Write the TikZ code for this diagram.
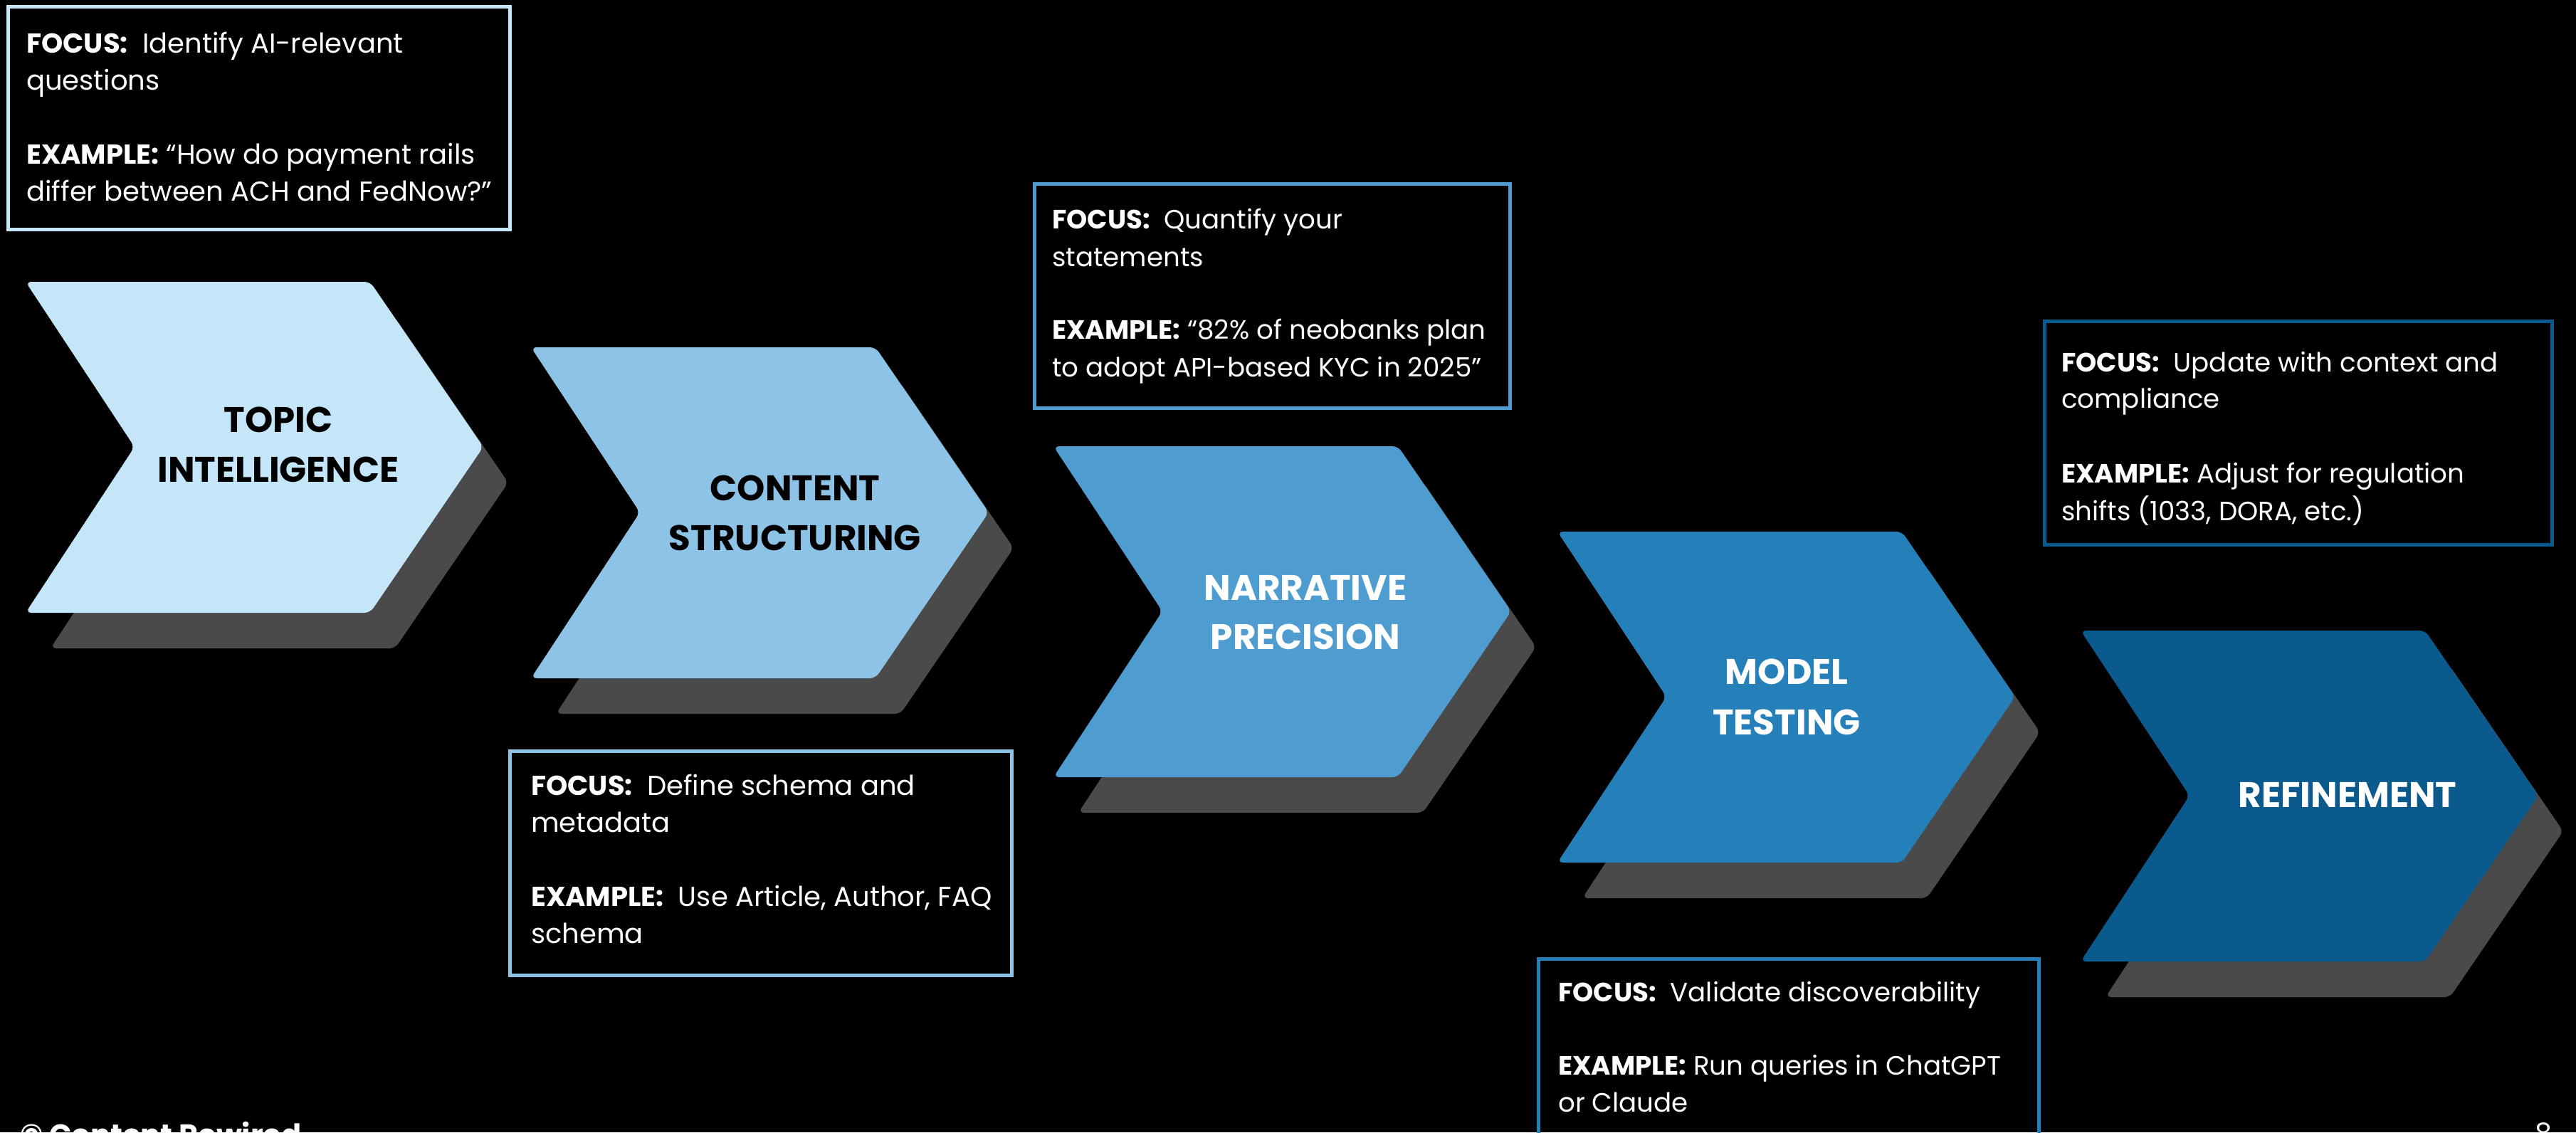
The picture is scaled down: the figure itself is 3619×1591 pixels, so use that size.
\documentclass[tikz,border=0pt]{standalone}
\usepackage{fontspec}
\setmainfont{Poppins}
\definecolor{cA}{HTML}{C5E6F8}
\definecolor{cB}{HTML}{8DC3E6}
\definecolor{cC}{HTML}{4F9DD0}
\definecolor{cD}{HTML}{2580BA}
\definecolor{cE}{HTML}{0A5A8E}
\definecolor{shadowgray}{HTML}{4A4A4A}
\newcommand\chev[3]{\fill[#1,rounded corners=8pt] (#2,#3) -- ++(484,0) -- ++(159,232) -- ++(-159,233) -- ++(-484,0) -- ++(153,-233) -- cycle;}
\newcommand\chevpair[3]{\chev{shadowgray}{#2+35}{#3+50}\chev{#1}{#2}{#3}}
\begin{document}
\begin{tikzpicture}[x=1pt,y=-1pt,
  lab/.style={font=\bfseries\fontsize{50}{70}\selectfont, inner sep=0pt, anchor=base},
  body/.style={font=\fontsize{38.5}{52}\selectfont, text=white, inner sep=0pt, anchor=base west},
  bodyb/.style={font=\fontsize{37.2}{52}\selectfont, text=white, inner sep=0pt, anchor=base west},
  infobox/.style={line width=5pt}]
\useasboundingbox (0,0) rectangle (3619,1591);
\clip (0,0) rectangle (3619,1591);
\fill[black] (0,0) rectangle (3619,1591);
% chevrons with shadows
\chevpair{cA}{36}{396}
\chevpair{cB}{746}{488}
\chevpair{cC}{1480}{627}
\chevpair{cD}{2188}{747}
\chevpair{cE}{2923}{886}
% chevron labels
\node[lab,text=black] (t1a) at (391,607) {TOPIC};
\node[lab,text=black] (t1b) at (391,677) {INTELLIGENCE};
\node[lab,text=black] (t2a) at (1117,703) {CONTENT};
\node[lab,text=black] (t2b) at (1117,773) {STRUCTURING};
\node[lab,text=white] (t3a) at (1834,843) {NARRATIVE};
\node[lab,text=white] (t3b) at (1834,912) {PRECISION};
\node[lab,text=white] (t4a) at (2510,961) {MODEL};
\node[lab,text=white] (t4b) at (2510,1032) {TESTING};
\node[lab,text=white] (t5a) at (3298,1134) {REFINEMENT};
% info boxes
\draw[infobox,draw=cA] (11.5,9.5) rectangle (716.5,322.5);
\node[body] (b1a) at (37,74) {\textbf{FOCUS:}\ \ Identify AI-relevant};
\node[body] (b1b) at (37,126) {questions};
\node[body] (b1c) at (37,230) {\textbf{EXAMPLE:} “How do payment rails};
\node[body] (b1d) at (37,282) {differ between ACH and FedNow?”};
\draw[infobox,draw=cB] (716.5,1055.5) rectangle (1421.5,1370.5);
\node[body] (b2a) at (746,1117) {\textbf{FOCUS:}\ \ Define schema and};
\node[body] (b2b) at (746,1169) {metadata};
\node[body] (b2c) at (746,1273) {\textbf{EXAMPLE:}\ \ Use Article, Author, FAQ};
\node[body] (b2d) at (746,1325) {schema};
\draw[infobox,draw=cC] (1453.5,258.5) rectangle (2121.5,573.5);
\node[bodyb] (b3a) at (1478,321) {\textbf{FOCUS:}\ \ Quantify your};
\node[bodyb] (b3b) at (1478,374) {statements};
\node[bodyb] (b3c) at (1478,476) {\textbf{EXAMPLE:} “82\% of neobanks plan};
\node[bodyb] (b3d) at (1478,529) {to adopt API-based KYC in 2025”};
\draw[infobox,draw=cD] (2161.5,1347.5) rectangle (2864.5,1662.5);
\node[bodyb] (b4a) at (2189,1407) {\textbf{FOCUS:}\ \ Validate discoverability};
\node[bodyb] (b4c) at (2189,1510) {\textbf{EXAMPLE:} Run queries in ChatGPT};
\node[bodyb] (b4d) at (2189,1562) {or Claude};
\draw[infobox,draw=cE] (2872.5,451.5) rectangle (3585.5,765.5);
\node[bodyb] (b5a) at (2896,522) {\textbf{FOCUS:}\ \ Update with context and};
\node[bodyb] (b5b) at (2896,573) {compliance};
\node[bodyb] (b5c) at (2896,678) {\textbf{EXAMPLE:} Adjust for regulation};
\node[bodyb] (b5d) at (2896,731) {shifts (1033, DORA, etc.)};
% footer
\node[font=\bfseries\fontsize{41.5}{50}\selectfont, text=white, inner sep=0pt, anchor=base west] (foot) at (28,1609) {© Content Rewired};
\node[font=\fontsize{38}{46}\selectfont, text=white, inner sep=0pt, anchor=base east] (pnum) at (3586,1605) {8};
\end{tikzpicture}
\end{document}
